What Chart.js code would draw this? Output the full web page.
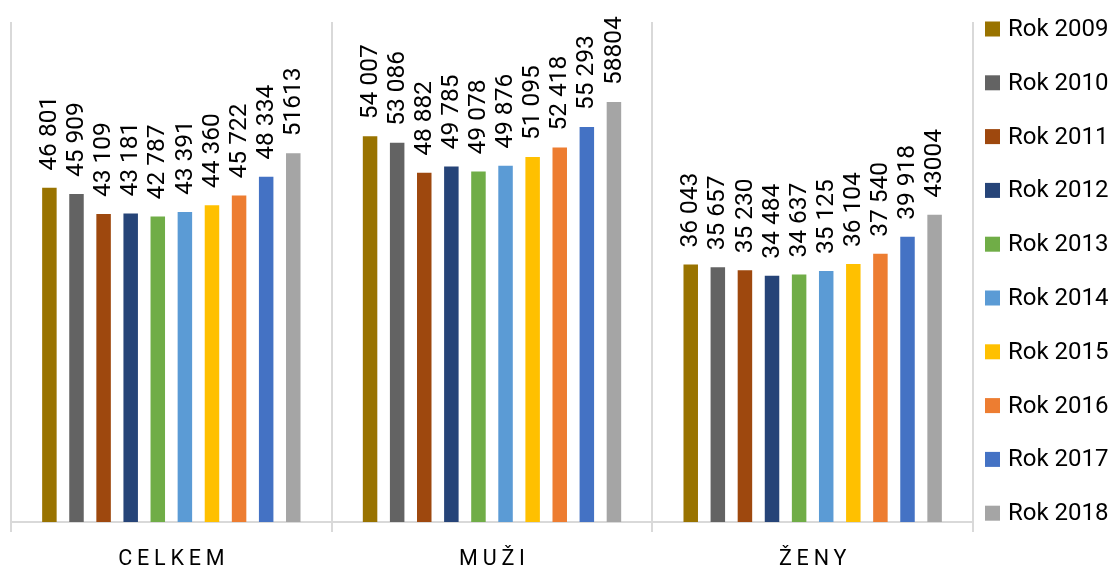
<!DOCTYPE html>
<html>
<head>
<meta charset="utf-8">
<script src="https://cdn.jsdelivr.net/npm/chart.js@4/dist/chart.umd.min.js"></script>
<style>
html,body{margin:0;padding:0;background:#fff;}
#wrap{width:1113px;height:570px;position:relative;}
</style>
</head>
<body>
<div id="wrap"><canvas id="c" width="1113" height="570"></canvas></div>
<script>
// ---- data ----
const categories = ['CELKEM', 'MUŽI', 'ŽENY'];
const years = ['Rok 2009','Rok 2010','Rok 2011','Rok 2012','Rok 2013','Rok 2014','Rok 2015','Rok 2016','Rok 2017','Rok 2018'];
const celkem = [46801, 45909, 43109, 43181, 42787, 43391, 44360, 45722, 48334, 51613];
const muzi   = [54007, 53086, 48882, 49785, 49078, 49876, 51095, 52418, 55293, 58804];
const zeny   = [36043, 35657, 35230, 34484, 34637, 35125, 36104, 37540, 39918, 43004];
const yearColors = ['#997300','#636363','#9E480E','#264478','#70AD47','#5B9BD5','#FFC000','#ED7D31','#4472C4','#A5A5A5'];
const groupThousands = [true,true,true,true,true,true,true,true,true,false];
const yMin = 0, yMax = 70000;

function fmt(v, grp){
  const s = String(v);
  return grp ? s.replace(/\B(?=(\d{3})+(?!\d))/g, ' ') : s;
}

const datasets = years.map((y, i) => ({
  label: y,
  data: [celkem[i], muzi[i], zeny[i]],
  backgroundColor: yearColors[i],
  borderWidth: 0,
  categoryPercentage: 0.845,
  barPercentage: 0.535
}));

const FONT = 'Roboto, "DejaVu Sans", sans-serif';

const dataLabels = {
  id: 'dataLabels',
  afterDatasetsDraw(chart){
    const ctx = chart.ctx;
    ctx.save();
    ctx.font = '24.5px ' + FONT;
    ctx.fillStyle = '#000';
    ctx.textAlign = 'left';
    ctx.textBaseline = 'middle';
    chart.data.datasets.forEach((ds, i) => {
      const meta = chart.getDatasetMeta(i);
      meta.data.forEach((bar, j) => {
        const txt = fmt(ds.data[j], groupThousands[i]);
        ctx.save();
        ctx.translate(bar.x + 0.5, bar.y - 17);
        ctx.rotate(-Math.PI / 2);
        ctx.fillText(txt, 0, 0);
        ctx.restore();
      });
    });
    ctx.restore();
  }
};

const sideLegend = {
  id: 'sideLegend',
  afterDraw(chart){
    const ctx = chart.ctx;
    const x0 = chart.chartArea.right + 12;
    ctx.save();
    ctx.font = '24px ' + FONT;
    ctx.textAlign = 'left';
    ctx.textBaseline = 'middle';
    chart.data.datasets.forEach((ds, i) => {
      const cy = 29 + i * 53.8;
      ctx.fillStyle = ds.backgroundColor;
      ctx.fillRect(x0, cy - 7.5, 15, 15);
      ctx.fillStyle = '#000';
      ctx.fillText(ds.label, x0 + 23, cy + 1);
    });
    ctx.restore();
  }
};

const spacedTicks = {
  id: 'spacedTicks',
  beforeDraw(chart){
    const xs = chart.scales.x;
    if (xs && !xs._spacedPatched){
      const orig = xs.drawLabels;
      xs.drawLabels = function(area){
        const ctx = this.ctx;
        ctx.save();
        ctx.letterSpacing = '4.8px';
        ctx.translate(2.4, 0);
        orig.call(this, area);
        ctx.restore();
      };
      xs._spacedPatched = true;
    }
  }
};

new Chart(document.getElementById('c'), {
  type: 'bar',
  data: { labels: categories, datasets },
  options: {
    responsive: false,
    animation: false,
    devicePixelRatio: 1,
    layout: { padding: { top: 22, left: 11, right: 140, bottom: 0 } },
    plugins: { legend: { display: false }, tooltip: { enabled: false } },
    scales: {
      x: {
        grid: { offset: true, color: '#d9d9d9', lineWidth: 2, tickLength: 10, drawTicks: true },
        border: { display: true, color: '#d9d9d9', width: 2 },
        ticks: { font: { family: FONT, size: 21.5 }, color: '#000', padding: 15, maxRotation: 0 },
        afterFit(s){ s.height = 48; }
      },
      y: { display: false, min: yMin, max: yMax }
    }
  },
  plugins: [dataLabels, sideLegend, spacedTicks]
});
</script>
</body>
</html>
